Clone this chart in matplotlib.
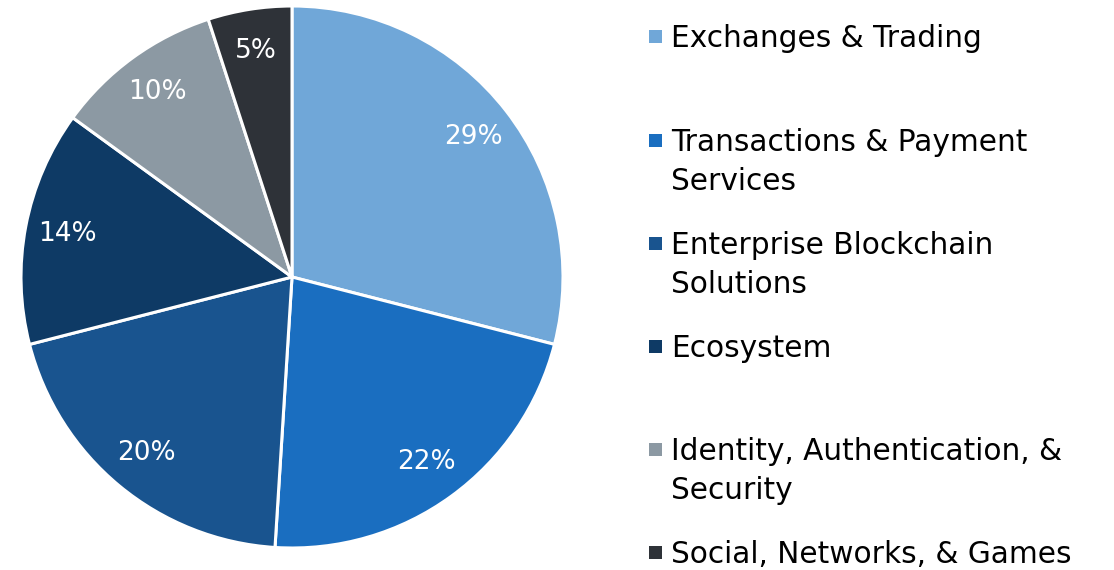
import matplotlib
matplotlib.use('Agg')
import matplotlib.pyplot as plt

# data
categories = ['Exchanges & Trading',
              'Transactions & Payment\nServices',
              'Enterprise Blockchain\nSolutions',
              'Ecosystem',
              'Identity, Authentication, &\nSecurity',
              'Social, Networks, & Games']
shares = [29, 22, 20, 14, 10, 5]
colors = ['#70A7D8', '#1A6EC0', '#19548F', '#0E3A65', '#8C99A3', '#2E3238']

plt.rcParams['font.family'] = ['DejaVu Sans']

W, H = 1114, 570
fig = plt.figure(figsize=(W / 100, H / 100), dpi=100)

# pie axes: center (292, 277) px, radius ~271 px
cx, cy, r = 292, 277, 271
ax = fig.add_axes([(cx - r) / W, 1 - (cy + r) / H, 2 * r / W, 2 * r / H])
wedges, texts, autotexts = ax.pie(
    shares, colors=colors, startangle=90, counterclock=False,
    autopct='%d%%', pctdistance=0.845, radius=1.0,
    wedgeprops=dict(edgecolor='white', linewidth=2.2),
    textprops=dict(color='white', fontsize=19))
ax.set_xlim(-1, 1)
ax.set_ylim(-1, 1)
ax.set_aspect('equal')
ax.axis('off')

# legend, placed by hand to match the uneven spacing
leg_y = [37, 141, 244, 347, 450, 553]
for y, lab, c in zip(leg_y, categories, colors):
    fig.patches.append(matplotlib.patches.Rectangle(
        (649 / W, 1 - (y + 6) / H), 13 / W, 13 / H,
        transform=fig.transFigure, facecolor=c, edgecolor='none'))
    fig.text(671 / W, 1 - (y - 13) / H, lab, fontsize=21.3, color='black',
             va='top', ha='left', linespacing=1.42)

fig.savefig('out.png', dpi=100)
